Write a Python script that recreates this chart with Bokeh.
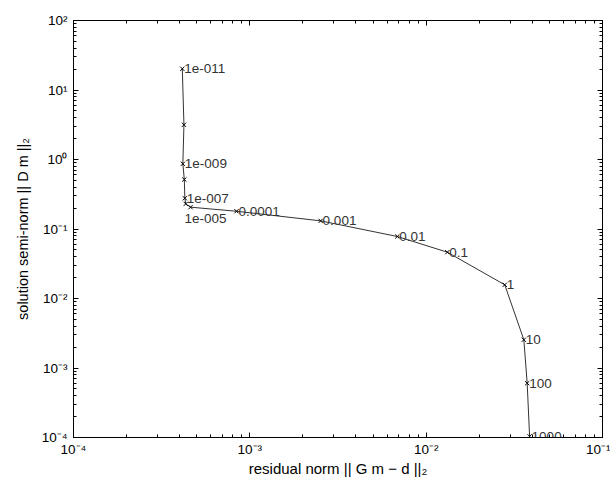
from bokeh.plotting import figure
from bokeh.models import LogAxis, LogTicker, CustomJSTickFormatter, ColumnDataSource, Range1d
from bokeh.core.properties import value
from bokeh.embed import file_html
from bokeh.resources import INLINE

# L-curve data
lambda_labels = ["1e-011", "", "1e-009", "", "1e-007", "", "1e-005", "0.0001",
                 "0.001", "0.01", "0.1", "1", "10", "100", "1000"]
residual_norm = [4.14e-4, 4.23e-4, 4.17e-4, 4.25e-4, 4.28e-4, 4.33e-4, 4.61e-4, 8.4e-4,
                 2.52e-3, 6.86e-3, 1.318e-2, 2.79e-2, 3.58e-2, 3.74e-2, 3.86e-2]
solution_seminorm = [20.2, 3.16, 0.867, 0.515, 0.277, 0.230, 0.206, 0.180,
                     0.131, 0.078, 0.0464, 0.01574, 2.55e-3, 6.04e-4, 1.04e-4]

FONT = "Liberation Sans"

# label placement (style): the 1e-005 label sits below its point
label_dx = [-6 if t == "1e-005" else 2 for t in lambda_labels]
label_dy = [11 if t == "1e-005" else 0 for t in lambda_labels]

src = ColumnDataSource(dict(x=residual_norm, y=solution_seminorm, t=lambda_labels,
                            dx=label_dx, dy=label_dy))

p = figure(width=610, height=490, x_axis_type="log", y_axis_type="log",
           x_range=Range1d(1e-4, 1e-1), y_range=Range1d(1e-4, 1e2),
           output_backend="svg", toolbar_location=None,
           min_border_left=73, min_border_top=20, min_border_right=8, min_border_bottom=53)
p.background_fill_color = "white"
p.border_fill_color = "white"
p.outline_line_color = "black"
p.outline_line_width = 1
p.xgrid.visible = False
p.ygrid.visible = False

sup_js = """
const sup = {'-':'\u207b','0':'\u2070','1':'\u00b9','2':'\u00b2','3':'\u00b3','4':'\u2074',
             '5':'\u2075','6':'\u2076','7':'\u2077','8':'\u2078','9':'\u2079'};
const e = Math.round(Math.log10(tick));
return '10' + String(e).split('').map(c => sup[c]).join('');
"""
fmt = CustomJSTickFormatter(code=sup_js)
blank = CustomJSTickFormatter(code="return '';")

def style_axis(ax, labels=True):
    ax.ticker = LogTicker(num_minor_ticks=10)
    ax.axis_line_color = "black"
    ax.major_tick_line_color = "black"
    ax.minor_tick_line_color = "black"
    ax.major_tick_in = 5
    ax.major_tick_out = 0
    ax.minor_tick_in = 3
    ax.minor_tick_out = 0
    ax.major_label_text_font = FONT
    ax.major_label_text_font_size = "13.5px"
    ax.major_label_text_color = "black"
    ax.axis_label_text_font = FONT
    ax.axis_label_text_font_size = "15px"
    ax.axis_label_text_font_style = "normal"
    ax.axis_label_text_color = "black"
    ax.formatter = fmt if labels else blank

style_axis(p.xaxis[0])
style_axis(p.yaxis[0])
p.xaxis[0].axis_label = "residual norm || G m \u2212 d ||\u2082"
p.yaxis[0].axis_label = "solution semi-norm || D m ||\u2082"
p.yaxis[0].axis_label_text_font_size = "14.5px"
p.xaxis[0].major_label_standoff = 4
p.xaxis[0].axis_label_standoff = 0
p.yaxis[0].major_label_standoff = 6
p.yaxis[0].axis_label_standoff = 8

top = LogAxis()
style_axis(top, labels=False)
top.major_label_text_font_size = "1px"
p.add_layout(top, "above")
right = LogAxis()
style_axis(right, labels=False)
right.major_label_text_font_size = "1px"
p.add_layout(right, "right")

p.line("x", "y", source=src, line_color="#333333", line_width=1)
p.scatter("x", "y", source=src, marker="x", size=6, line_color="black", line_width=1)
p.text("x", "y", text="t", source=src, x_offset="dx", y_offset="dy",
       text_font=value(FONT), text_font_size="13.5px", text_color="#333333",
       text_baseline="middle", text_align="left")

open("out.html", "w").write(file_html(p, INLINE))
